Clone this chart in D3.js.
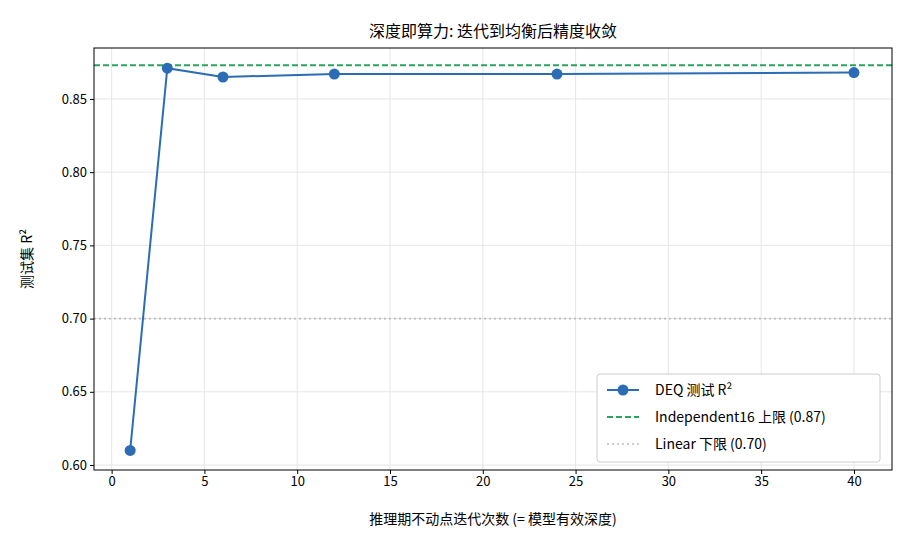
<!DOCTYPE html><html><head><meta charset="utf-8">
<script src="https://cdn.jsdelivr.net/npm/d3@7"></script>
<style>body{margin:0;background:#fff}text{font-family:"Noto Sans CJK SC","DejaVu Sans",sans-serif}</style></head><body>
<svg id="c" width="910" height="546"></svg>
<script>
const iters=[1,3,6,12,24,40];
const r2=[0.610,0.871,0.865,0.867,0.867,0.868];
const upper=0.873, lower=0.700;
const xTicks=[0,5,10,15,20,25,30,35,40];
const yTicks=[0.60,0.65,0.70,0.75,0.80,0.85];
const svg=d3.select("#c");
const L=94,R=892,T=48,B=470;
const x=d3.scaleLinear().domain([-0.95,42.05]).range([L,R]);
const y=d3.scaleLinear().domain([0.5966,0.8848]).range([B,T]);
const g=svg.append("g");
g.selectAll(".gx").data(xTicks).join("line").attr("x1",d=>x(d)).attr("x2",d=>x(d)).attr("y1",T).attr("y2",B).attr("stroke","#e6e6e6");
g.selectAll(".gy").data(yTicks).join("line").attr("y1",d=>y(d)).attr("y2",d=>y(d)).attr("x1",L).attr("x2",R).attr("stroke","#e6e6e6");
svg.append("g").attr("transform",`translate(0,${B})`).call(d3.axisBottom(x).tickValues(xTicks).tickSize(4).tickSizeOuter(0)).call(a=>{a.select(".domain").remove();a.selectAll("text").attr("font-size",13).attr("fill","#000")});
svg.append("g").attr("transform",`translate(${L},0)`).call(d3.axisLeft(y).tickValues(yTicks).tickFormat(d3.format(".2f")).tickSize(4).tickSizeOuter(0)).call(a=>{a.select(".domain").remove();a.selectAll("text").attr("font-size",13).attr("fill","#000")});
svg.append("line").attr("x1",L).attr("x2",R).attr("y1",y(upper)).attr("y2",y(upper)).attr("stroke","#2ca25f").attr("stroke-width",2).attr("stroke-dasharray","6,3");
svg.append("line").attr("x1",L).attr("x2",R).attr("y1",y(lower)).attr("y2",y(lower)).attr("stroke","#bbb").attr("stroke-width",1.6).attr("stroke-dasharray","2,3");
const blue="#2b6cb5";
svg.append("path").datum(iters.map((d,i)=>[d,r2[i]])).attr("d",d3.line().x(d=>x(d[0])).y(d=>y(d[1]))).attr("fill","none").attr("stroke",blue).attr("stroke-width",2);
svg.selectAll(".pt").data(iters).join("circle").attr("cx",d=>x(d)).attr("cy",(d,i)=>y(r2[i])).attr("r",5.5).attr("fill",blue);
svg.append("rect").attr("x",L).attr("y",T).attr("width",R-L).attr("height",B-T).attr("fill","none").attr("stroke","#000");
svg.append("text").attr("x",(L+R)/2).attr("y",37).attr("text-anchor","middle").attr("font-size",16).text("深度即算力: 迭代到均衡后精度收敛");
svg.append("text").attr("x",(L+R)/2).attr("y",524).attr("text-anchor","middle").attr("font-size",14).text("推理期不动点迭代次数 (= 模型有效深度)");
svg.append("text").attr("transform","translate(32,259) rotate(-90)").attr("text-anchor","middle").attr("font-size",14).text("测试集 R²");
const lg=svg.append("g").attr("transform","translate(597,374)");
lg.append("rect").attr("width",283).attr("height",88).attr("rx",3).attr("fill","#fff").attr("stroke","#ccc");
lg.append("line").attr("x1",10).attr("x2",42).attr("y1",16).attr("y2",16).attr("stroke",blue).attr("stroke-width",2);
lg.append("circle").attr("cx",26).attr("cy",16).attr("r",5.5).attr("fill",blue);
lg.append("line").attr("x1",10).attr("x2",42).attr("y1",43).attr("y2",43).attr("stroke","#2ca25f").attr("stroke-width",2).attr("stroke-dasharray","6,3");
lg.append("line").attr("x1",10).attr("x2",42).attr("y1",70).attr("y2",70).attr("stroke","#bbb").attr("stroke-width",1.6).attr("stroke-dasharray","2,3");
[["DEQ 测试 R²",16],["Independent16 上限 (0.87)",43],["Linear 下限 (0.70)",70]].forEach(([t,yy])=>lg.append("text").attr("x",58).attr("y",yy+5).attr("font-size",14).text(t));
</script></body></html>
